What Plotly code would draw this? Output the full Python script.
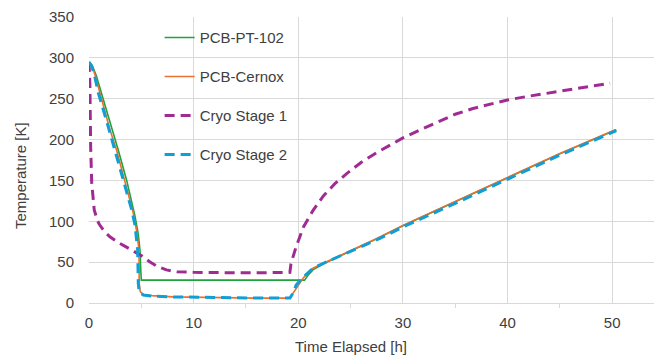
import plotly.graph_objects as go

# ---- data ----
t_pt102 = [0, 0.3, 0.7, 1.2, 2.0, 2.8, 3.6, 4.4, 4.7, 4.87, 4.95, 5.0, 10, 15, 20.6,
           21.0, 21.4, 22.4, 23.5, 25, 27.5, 30, 35, 40, 45, 50.4]
T_pt102 = [295, 291, 278, 257, 222, 187, 150, 106, 85, 65, 40, 28, 28, 28, 28,
           35, 40.5, 48, 54.5, 63.5, 78.5, 94.5, 124, 153.5, 182.5, 212]

t_cernox = [0, 0.3, 0.6, 1.05, 2.0, 2.64, 3.4, 4.23, 4.55, 4.78, 4.8, 4.9, 5.2, 6, 8, 10,
            12, 14, 16, 18, 19.2, 19.5, 20.0, 20.5, 21.0, 21.4, 22.4, 23.5, 25, 27.5,
            30, 35, 40, 45, 50.3]
T_cernox = [295, 290, 278, 257, 212, 187, 150, 110, 88, 65, 24, 14, 10, 9, 7.5, 7,
            6.5, 6.3, 6, 6, 6, 12, 22, 31, 38, 42.5, 48.6, 55, 64, 79,
            95, 124.5, 154, 183, 212]

t_stage1 = [0, 0.08, 0.16, 0.26, 0.5, 0.8, 1.0, 1.5, 2.0, 2.8, 3.5, 4.4, 5.0, 5.8, 6.5,
            7.4, 8.4, 10, 12, 14, 16, 18, 19.2, 19.3, 19.8, 20.5, 21.4, 22.4, 23.5,
            24.6, 26, 27.5, 29, 30, 31.5, 33.5, 35, 36.7, 38.5, 40, 42, 44, 46.3, 48, 49.8]
T_stage1 = [295, 270, 190, 147, 114, 101, 96, 87, 81, 74, 69, 63, 58, 50.5, 45,
            40.5, 38.3, 37.5, 37, 37, 37, 37, 37.5, 48, 69, 93, 113, 131, 146,
            158, 172, 184, 195, 202, 211, 223, 231, 238, 244, 248.5, 253, 257, 262, 265, 269]

t_stage2 = [0, 0.25, 0.5, 0.89, 1.7, 2.48, 3.3, 4.08, 4.4, 4.65, 4.71, 4.8, 5.19, 6, 8,
            10, 12, 14, 16, 18, 19.2, 19.5, 19.8, 20.5, 21.4, 22.4, 23.5, 24.6, 27.8,
            30, 35, 40, 45, 50.4]
T_stage2 = [295, 290, 280, 257, 222, 187, 150, 114, 95, 65, 24, 13, 9.8, 8.5, 7.5,
            7, 6.5, 6.2, 6, 6, 6, 12, 22, 32, 42.5, 48.6, 54.5, 61, 79,
            93, 122, 152, 181, 211]

series = [
    ("PCB-PT-102", t_pt102, T_pt102, "#1FA23A", 1.6, "solid"),
    ("PCB-Cernox", t_cernox, T_cernox, "#E97132", 1.6, "solid"),
    ("Cryo Stage 1", t_stage1, T_stage1, "#A02B93", 3, "10px,6px"),
    ("Cryo Stage 2", t_stage2, T_stage2, "#0F9ED5", 3, "10px,6px"),
]

FONT = "Liberation Sans, Arial, sans-serif"
TXT = "#404040"
GRID = "#D9D9D9"

fig = go.Figure()
for i, (name, tx, ty, col, w, dash) in enumerate(series):
    fig.add_trace(go.Scatter(
        x=tx, y=ty, mode="lines", name=name, legendgroup=str(i),
        line=dict(color=col, width=w, dash=dash),
    ))

fig.update_layout(
    width=654, height=356,
    margin=dict(l=89, r=0, t=17, b=53),
    paper_bgcolor="white", plot_bgcolor="white",
    font=dict(family=FONT, size=15, color=TXT),
    showlegend=True,
    legend=dict(
        x=0.125, y=0.985, xanchor="left", yanchor="top",
        bgcolor="rgba(0,0,0,0)", tracegroupgap=16.5,
        font=dict(family=FONT, size=15, color=TXT),
        itemwidth=30,
    ),
    annotations=[
        dict(text="Time Elapsed [h]", xref="paper", yref="paper",
             x=0.4637, y=-0.1538, xanchor="center", yanchor="middle",
             showarrow=False, font=dict(family=FONT, size=15, color=TXT)),
        dict(text="Temperature [K]", xref="paper", yref="paper",
             x=-0.1221, y=0.444, xanchor="center", yanchor="middle",
             textangle=-90, showarrow=False,
             font=dict(family=FONT, size=15, color=TXT)),
    ],
)

fig.update_xaxes(
    range=[0, 54], dtick=10, tick0=0,
    showgrid=True, gridcolor=GRID, gridwidth=1,
    zeroline=False, showline=False,
    ticks="", ticklabelstandoff=9,
    minor=dict(dtick=5, ticks="outside", ticklen=4, tickcolor=GRID, showgrid=False),
    tickfont=dict(family=FONT, size=15, color=TXT),
)
fig.update_yaxes(
    range=[0, 350], dtick=50,
    showgrid=True, gridcolor=GRID, gridwidth=1,
    zeroline=True, zerolinecolor=GRID, zerolinewidth=1,
    showline=False, ticks="", ticklabelstandoff=14,
    tickfont=dict(family=FONT, size=15, color=TXT),
)

fig.write_html("out.html")
